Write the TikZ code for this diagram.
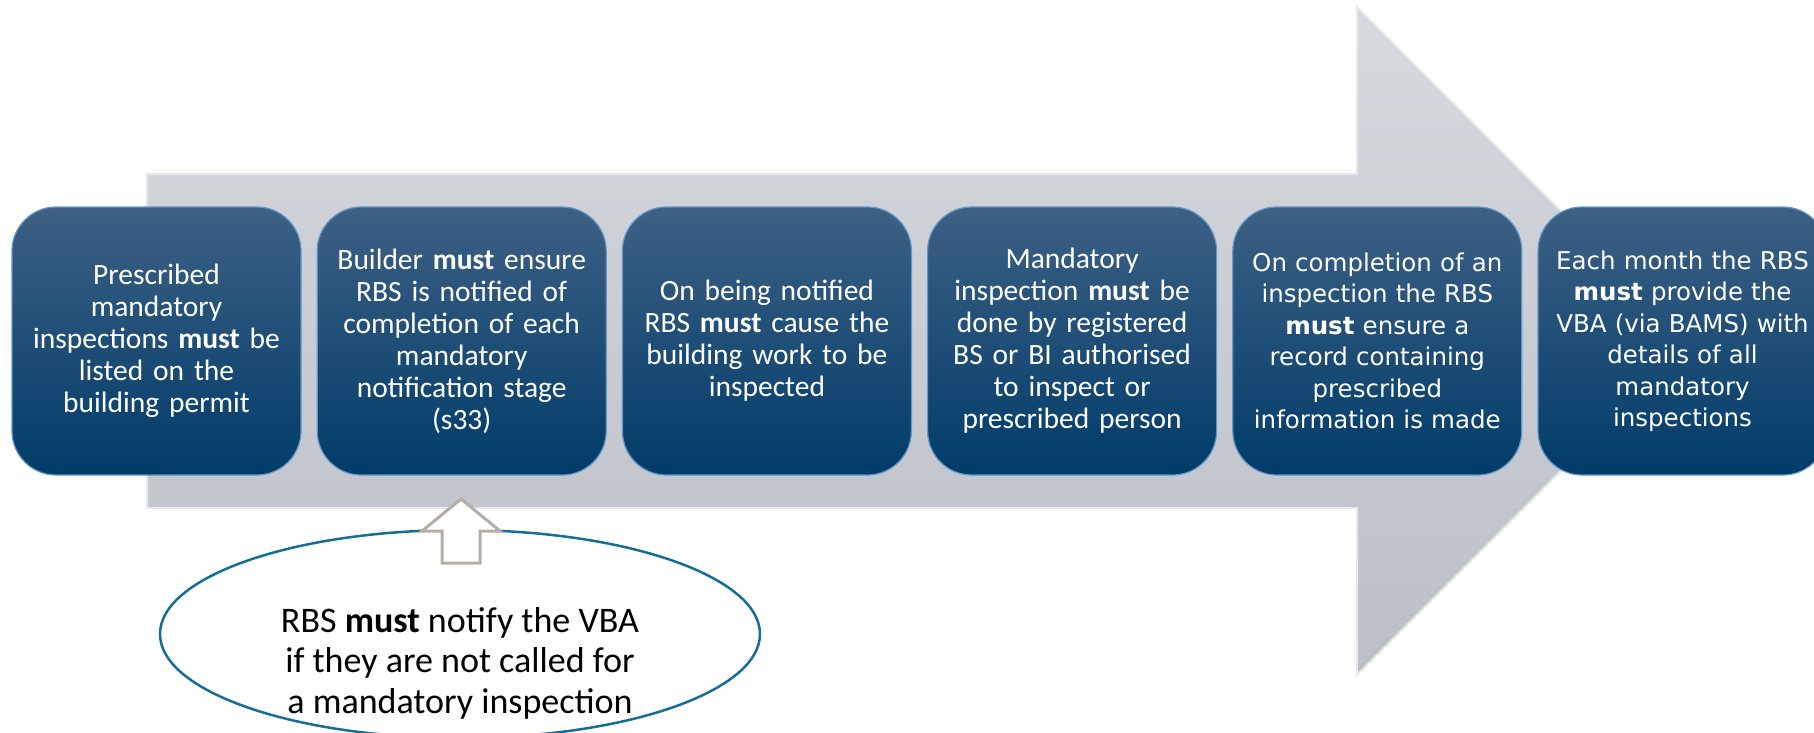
\documentclass[tikz,border=0pt]{standalone}
\usepackage{fontspec}
\setmainfont{Carlito}
\newfontfamily\verdfont{DejaVu Sans}
\usetikzlibrary{positioning,shapes.geometric}

\definecolor{boxtop}{RGB}{62,96,132}
\definecolor{boxbot}{RGB}{0,60,105}
\definecolor{boxrim}{RGB}{96,150,200}
\definecolor{shafttop}{RGB}{214,217,222}
\definecolor{shaftbot}{RGB}{188,191,198}
\definecolor{shaftrim}{RGB}{230,232,235}
\definecolor{noteline}{RGB}{22,110,150}
\definecolor{pointer}{RGB}{182,174,166}

\begin{document}
\begin{tikzpicture}[x=1pt, y=-1pt, node distance=15pt,
  stage/.style={rounded corners=44pt, minimum width=289pt, minimum height=268pt,
    inner sep=0pt, top color=boxtop, bottom color=boxbot, draw=boxrim, line width=1.2pt,
    text=white, align=center, text width=278pt, font=\fontsize{29.5}{32}\selectfont},
  stagev/.style={stage, font=\verdfont\fontsize{24.5}{31.5}\selectfont},
  callout/.style={ellipse, draw=noteline, line width=2.5pt, fill=white,
    minimum width=600pt, minimum height=208pt, inner sep=0pt}]

\clip (0,0) rectangle (1814,732);

\path[draw=shaftrim, line width=2pt, top color=shafttop, bottom color=shaftbot]
  (147,174) -- (1357,174) -- (1357,7) -- (1691,341) -- (1357,675) -- (1357,508) -- (147,508) -- cycle;

\node[stage] (permit) at (156.5,341) {Prescribed\\ mandatory\\ inspections \textbf{must} be\\ listed on the\\ building permit};
\node[stage, right=of permit] (notify) {Builder \textbf{must} ensure\\ RBS is notified of\\ completion of each\\ mandatory\\ notification stage\\ (s33)};
\node[stage, right=of notify] (cause) {On being notified\\ RBS \textbf{must} cause the\\ building work to be\\ inspected};
\node[stage, right=of cause] (inspect) {Mandatory\\ inspection \textbf{must} be\\ done by registered\\ BS or BI authorised\\ to inspect or\\ prescribed person};
\node[stagev, right=of inspect] (record) {On completion of an\\ inspection the RBS\\ \textbf{must} ensure a\\ record containing\\ prescribed\\ information is made};
\node[stagev, right=of record] (report) {Each month the RBS\\ \textbf{must} provide the\\ VBA (via BAMS) with\\ details of all\\ mandatory\\ inspections};

\node[callout] (note) at (460,634) {};
\node[font=\fontsize{36}{40.5}\selectfont, align=center] (notetext) at (460,663)
  {RBS \textbf{must} notify the VBA\\ if they are not called for\\ a mandatory inspection};

\draw[pointer, fill=white, line width=3pt]
  (461,499) -- (500,531) -- (480,531) -- (480,563) -- (442,563) -- (442,531) -- (422,531) -- cycle;

\end{tikzpicture}
\end{document}
